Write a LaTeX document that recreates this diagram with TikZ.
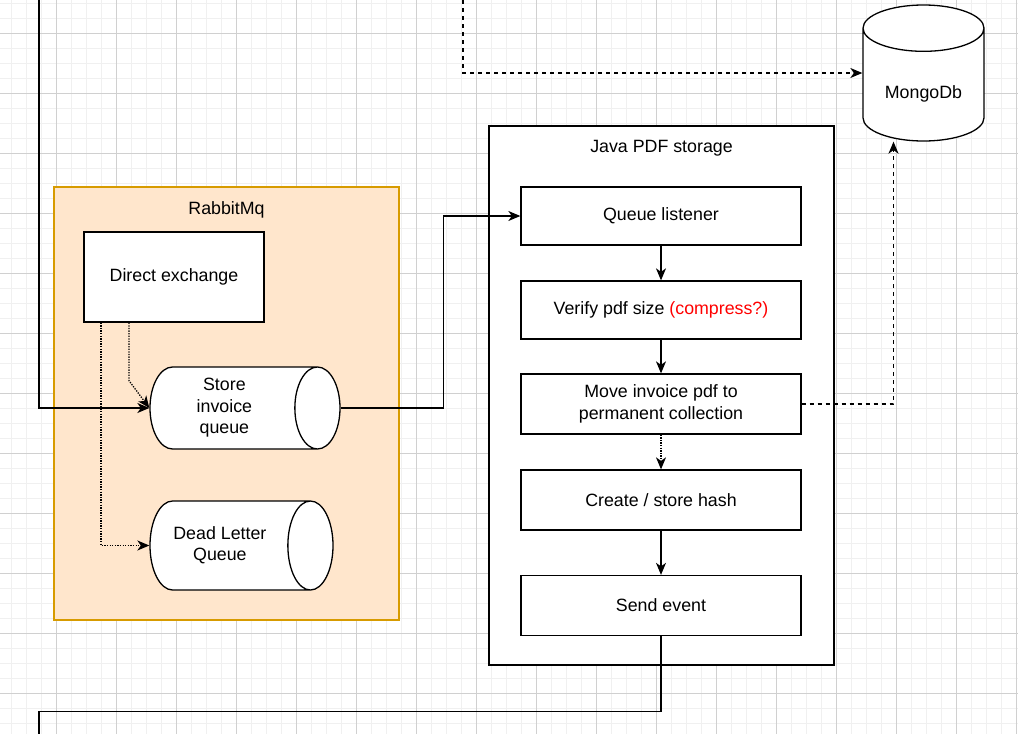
\documentclass[tikz,border=0pt]{standalone}
\usepackage{fontspec}
\setmainfont{Liberation Sans}
\usetikzlibrary{shapes.geometric}
\usetikzlibrary{arrows.meta}

\definecolor{gridminor}{HTML}{F0F0F0}
\definecolor{gridmajor}{HTML}{D0D0D0}
\definecolor{rabbitfill}{HTML}{FFE6CC}
\definecolor{rabbitline}{HTML}{D79B00}
\definecolor{notered}{HTML}{FF0000}

\begin{document}
\begin{tikzpicture}[x=1pt,y=-1pt,line width=1.3pt,>={Stealth[length=12pt,width=10pt,inset=3.5pt]},
	every node/.style={font=\fontsize{17.8}{21.5}\selectfont},
	group_box/.style={rectangle,draw,fill=white,inner sep=0pt},
	step_box/.style={rectangle,draw,fill=white,minimum width=280pt,minimum height=60pt,inner sep=0pt,align=center},
	queue_node/.style={cylinder,draw,fill=white,inner sep=0pt,anchor=shape center},
	dot_line/.style={dash pattern=on 1.3pt off 1.3pt},
	dash_line/.style={dash pattern=on 4pt off 4pt}]

	\useasboundingbox (0,0) rectangle (1018,734);
	\fill[white] (0,0) rectangle (1018,734);

	% grid
	\foreach \x in {-3.3,11.7,...,1020} \draw[gridminor,line width=1pt] (\x,0) -- (\x,734);
	\foreach \y in {3.3,18.3,...,740} \draw[gridminor,line width=1pt] (0,\y) -- (1018,\y);
	\foreach \x in {-3.3,56.7,...,1020} \draw[gridmajor,line width=1pt] (\x,0) -- (\x,734);
	\foreach \y in {33.3,93.3,...,740} \draw[gridmajor,line width=1pt] (0,\y) -- (1018,\y);

	% containers
	\node[group_box,draw=rabbitline,fill=rabbitfill,minimum width=345pt,minimum height=433pt,
		label={[anchor=center,yshift=-24pt]north:RabbitMq}] (rabbit) at (226.5,403.5) {};
	\node[group_box,minimum width=345pt,minimum height=539pt,
		label={[anchor=center,yshift=-23pt]north:Java PDF storage}] (java) at (661.5,395.5) {};

	\node[group_box,minimum width=180pt,minimum height=90pt] (dx) at (174,277) {Direct exchange};
	\node[queue_node,aspect=0.7,minimum height=190pt,minimum width=82pt] (sq) at (245,408)
		{\begin{tabular}{@{}c@{}}Store\\invoice\\queue\end{tabular}\hspace*{18pt}};
	\node[queue_node,aspect=1.05,minimum height=183pt,minimum width=89pt] (dlq) at (241.5,545.5)
		{\begin{tabular}{@{}c@{}}Dead Letter\\Queue\end{tabular}\hspace*{20pt}};
	\node[queue_node,shape border rotate=90,aspect=0.6,minimum width=121pt,minimum height=136pt,
		text height=31pt,text depth=4pt] (mongo) at (923.5,73) {MongoDb};

	\node[step_box,minimum height=58pt] (ql) at (661,216) {Queue listener};
	\node[step_box,minimum height=58pt] (vs) at (661,310) {Verify pdf size \textcolor{notered}{(compress?)}};
	\node[step_box] (mv) at (661,404) {Move invoice pdf to\\permanent collection};
	\node[step_box] (ch) at (661,500) {Create / store hash};
	\node[step_box] (se) at (661,605.5) {Send event};

	\coordinate (topL) at (39,0);
	\coordinate (topM) at (463,0);
	\coordinate (botL) at (39,734);

	\draw[->] (topL) |- (sq.west);
	\draw[->,dot_line] ([xshift=-45pt]dx.south) -- ++(0,58) -- (sq.west);
	\draw[->,dot_line] ([xshift=-73pt]dx.south) |- (dlq.west);
	\draw[->] (sq.east) -- ++(103,0) |- (ql.west);

	\draw[->] (ql) -- (vs);
	\draw[->] (vs) -- (mv);
	\draw[->,dot_line] (mv) -- (ch);
	\draw[->] (ch) -- (se);

	\draw[->,dash_line] (topM) |- (mongo.shape center -| mongo.west);
	\draw[->,dash_line] (mv.east) -| ([xshift=-30pt]mongo.south);
	\draw (se.south) -- ++(0,75) -| (botL);
\end{tikzpicture}
\end{document}
